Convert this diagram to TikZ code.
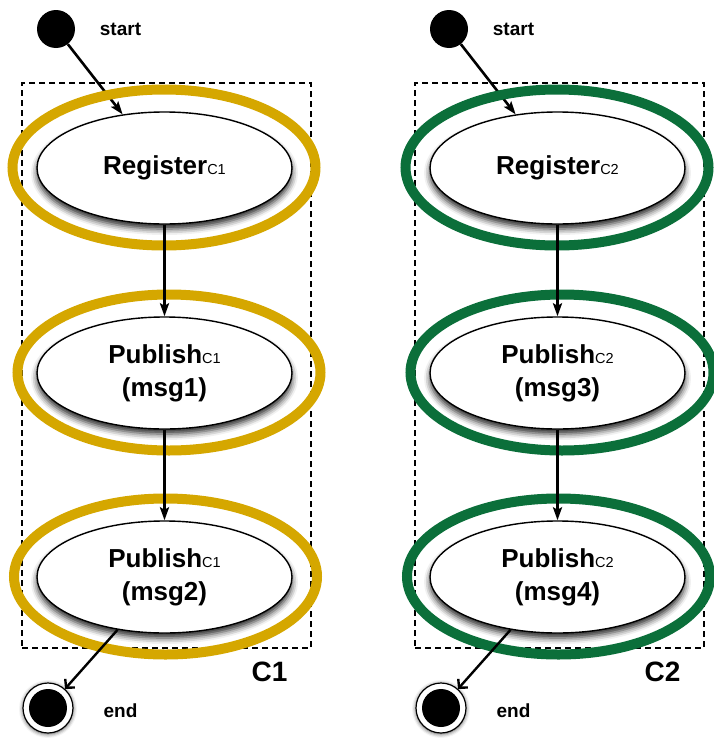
\documentclass[tikz,border=0pt]{standalone}
\usepackage{fontspec}
\setmainfont{Liberation Sans}
\usetikzlibrary{arrows.meta,shapes.geometric,shadows.blur}
\definecolor{ringgold}{RGB}{213,167,0}
\definecolor{ringgreen}{RGB}{11,111,58}
\tikzset{
  state/.style={ellipse, draw=black, line width=1.4pt, fill=white,
    minimum width=255pt, minimum height=112pt, inner sep=0pt, align=center,
    font=\fontsize{26}{33}\selectfont\bfseries,
    blur shadow={shadow xshift=0pt, shadow yshift=-5pt, shadow blur radius=6pt, shadow opacity=85}},
  ring/.style={ellipse, draw=#1, line width=10pt, inner sep=0pt,
    minimum width=303pt, minimum height=156pt},
  startdot/.style={circle, fill=black, minimum size=38pt, inner sep=0pt},
  enddot/.style={circle, draw=black, line width=1.2pt, fill=white, minimum size=50pt, inner sep=0pt,
    blur shadow={shadow xshift=0pt, shadow yshift=-1pt, shadow blur radius=4pt, shadow opacity=70}},
  lbl/.style={font=\fontsize{19}{19}\selectfont\bfseries, inner sep=0pt},
  clbl/.style={font=\fontsize{28}{28}\selectfont\bfseries, inner sep=0pt},
  group/.style={draw=black, dash pattern=on 6pt off 4pt, line width=1.4pt,
    minimum width=289pt, minimum height=565pt, inner sep=0pt},
  flow/.style={line width=2.6pt, -{Stealth[length=13pt,width=9pt,inset=2.5pt]}},
  exitflow/.style={line width=2.4pt, -{Straight Barb[length=6pt,width=13pt]}},
}
\newcommand{\subC}[1]{{\fontsize{14.5}{14.5}\selectfont\mdseries #1}}
\begin{document}
\begin{tikzpicture}[x=1pt,y=-1pt]
\useasboundingbox (0,0) rectangle (713,739);
\foreach \dx/\c/\col/\ma/\mb in {0/1/ringgold/1/2, 393/2/ringgreen/3/4}{
\begin{scope}[xshift=\dx pt]
  \node[group] (box\c) at (166.5,365.5) {};
  \node[startdot] (start\c) at (56,29) {};
  \node[lbl] (startlbl\c) at (120.5,29) {start};
  \node[state] (reg\c) at (164.5,168) {Register\subC{C\c}};
  \node[state] (pubA\c) at (164.5,373) {Publish\subC{C\c}\\(msg\ma)};
  \node[state] (pubB\c) at (164.5,577) {Publish\subC{C\c}\\(msg\mb)};
  \node[enddot] (end\c) at (48,708) {};
  \fill[black] (end\c.center) circle (19pt);
  \node[lbl] (endlbl\c) at (120.5,711) {end};
  \node[clbl] (clbl\c) at (269.5,672) {C\c};
  \draw[flow] (start\c) -- (reg\c);
  \node[ring=\col] (ringR\c) at (164,167.5) {};
  \node[ring=\col] (ringA\c) at (169,372.5) {};
  \node[ring=\col] (ringB\c) at (165.5,576.5) {};
  \draw[flow] (reg\c) -- (pubA\c);
  \draw[flow] (pubA\c) -- (pubB\c);
  \draw[exitflow] (pubB\c) -- (end\c);
\end{scope}
}
\end{tikzpicture}
\end{document}
